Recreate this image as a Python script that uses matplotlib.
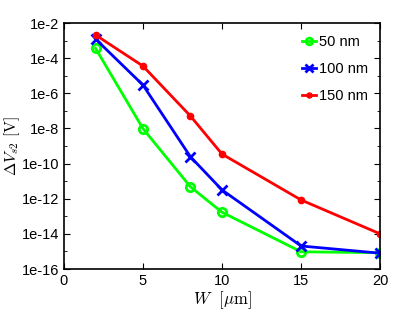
import matplotlib
matplotlib.use("Agg")
import matplotlib.pyplot as plt
from matplotlib.ticker import FixedLocator, LogLocator, NullFormatter

plt.rcParams['font.family'] = ['Liberation Sans', 'DejaVu Sans']
plt.rcParams['mathtext.fontset'] = 'cm'

# data
w = [2, 5, 8, 10, 15, 20]
v_50 = [10**-3.44, 10**-8.01, 10**-11.32, 10**-12.77, 10**-15.02, 10**-15.07]
v_100 = [10**-2.91, 10**-5.53, 10**-9.61, 10**-11.5, 10**-14.69, 10**-15.1]
v_150 = [10**-2.68, 10**-4.45, 10**-7.29, 10**-9.46, 10**-12.07, 10**-14.0]
labels = ['50 nm', '100 nm', '150 nm']
ytick_vals = [1e-16, 1e-14, 1e-12, 1e-10, 1e-8, 1e-6, 1e-4, 1e-2]
ytick_labels = ['1e-16', '1e-14', '1e-12', '1e-10', '1e-8', '1e-6', '1e-4', '1e-2']

fig = plt.figure(figsize=(4.15, 3.11), dpi=100)
ax = fig.add_axes([0.154, 0.135, 0.762, 0.791])

ax.plot(w, v_50, color='#00ff00', lw=2, marker='o', ms=6, mfc='none', mew=2, label=labels[0])
ax.plot(w, v_100, color='#0000ff', lw=2, marker='x', ms=6.5, mew=2, label=labels[1])
ax.plot(w, v_150, color='#ff0000', lw=2, marker='o', ms=4.5, label=labels[2])

ax.set_yscale('log')
ax.set_xlim(0, 20)
ax.set_ylim(1e-16, 1e-2)
ax.set_xticks([0, 5, 10, 15, 20])
ax.yaxis.set_major_locator(FixedLocator(ytick_vals))
ax.set_yticklabels(ytick_labels)
ax.yaxis.set_minor_locator(LogLocator(base=10, subs=(1.0,), numticks=30))
ax.yaxis.set_minor_formatter(NullFormatter())

ax.tick_params(which='both', direction='in', top=True, right=True, labelsize=10.5)
ax.tick_params(which='major', length=4, width=0.8)
ax.tick_params(which='minor', length=2, width=0.6)
for s in ax.spines.values():
    s.set_linewidth(1.2)

ax.set_xlabel(r'$W\ \ [\mathrm{\mu m}]$', fontsize=12, labelpad=1)
ax.set_ylabel(r'$\Delta V_{s2}\ [\mathrm{V}]$', fontsize=11.5, labelpad=0)

ax.legend(loc='upper right', frameon=False, fontsize=10.5, handlelength=1.0,
          handletextpad=0.2, labelspacing=0.9, borderaxespad=0.4, markerscale=0.8)

fig.savefig('out.png', dpi=100)
